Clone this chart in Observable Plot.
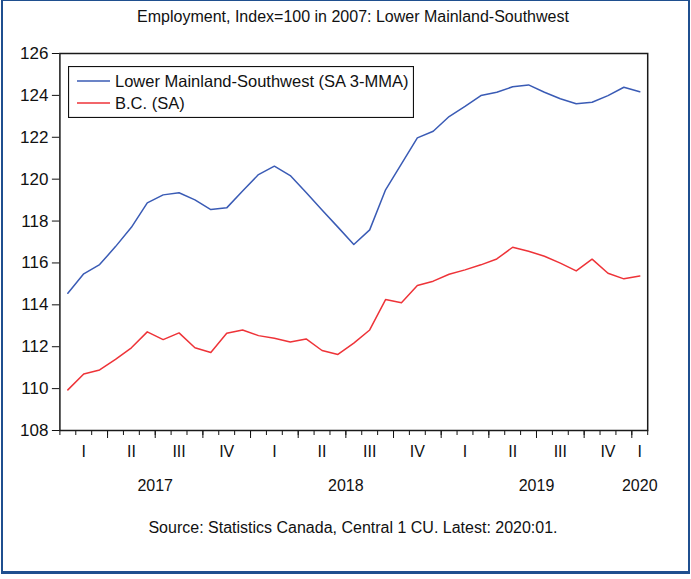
<!DOCTYPE html>
<html>
<head>
<meta charset="utf-8">
<script src="https://cdn.jsdelivr.net/npm/d3@7"></script>
<script src="https://cdn.jsdelivr.net/npm/@observablehq/plot@0.6"></script>
<style>
  body { margin: 0; background: #fff; }
  #wrap { position: relative; width: 691px; height: 579px; overflow: hidden; background: #fff;
          font-family: "Liberation Sans", Arial, sans-serif; color: #111; }
  #border { position: absolute; left: 1px; top: 0; width: 685px; height: 570px;
            border-style: solid; border-color: #1f4f8f;
            border-width: 1px 2px 3px 2px; pointer-events: none; }
  #title { position: absolute; left: 59px; width: 588px; top: 8px; text-align: center;
           font-size: 16px; line-height: 18px; white-space: nowrap; }
  #source { position: absolute; left: 59px; width: 588px; top: 519px; text-align: center;
            font-size: 16px; line-height: 18px; white-space: nowrap; }
  #chart { position: absolute; left: 0; top: 30px; }
  #legend { position: absolute; left: 68px; top: 66px; }
</style>
</head>
<body>
<div id="wrap">
  <div id="title">Employment, Index=100 in 2007: Lower Mainland-Southwest</div>
  <div id="chart"></div>
  <div id="legend"></div>
  <div id="source">Source: Statistics Canada, Central 1 CU. Latest: 2020:01.</div>
  <div id="border"></div>
</div>
<script>
// ---- data (monthly, Jan 2017 – Jan 2020) ----
const months = [
  "2017-01","2017-02","2017-03","2017-04","2017-05","2017-06","2017-07","2017-08","2017-09","2017-10","2017-11","2017-12",
  "2018-01","2018-02","2018-03","2018-04","2018-05","2018-06","2018-07","2018-08","2018-09","2018-10","2018-11","2018-12",
  "2019-01","2019-02","2019-03","2019-04","2019-05","2019-06","2019-07","2019-08","2019-09","2019-10","2019-11","2019-12",
  "2020-01"
];
const lowerMainland = [
  114.55, 115.48, 115.92, 116.78, 117.70, 118.87, 119.25, 119.35, 119.01, 118.55, 118.63, 119.43,
  120.22, 120.62, 120.17, 119.36, 118.53, 117.71, 116.88, 117.58, 119.49, 120.73, 121.97, 122.29,
  122.99, 123.47, 123.99, 124.15, 124.41, 124.50, 124.15, 123.84, 123.60, 123.67, 123.99, 124.39,
  124.17
];
const bc = [
  109.94, 110.70, 110.89, 111.40, 111.95, 112.71, 112.34, 112.66, 111.95, 111.72, 112.64, 112.80,
  112.53, 112.40, 112.23, 112.37, 111.82, 111.63, 112.17, 112.80, 114.25, 114.10, 114.92, 115.13,
  115.46, 115.67, 115.91, 116.19, 116.75, 116.56, 116.32, 115.99, 115.62, 116.18, 115.51, 115.24,
  115.38
];
const seriesNames = ["Lower Mainland-Southwest (SA 3-MMA)", "B.C. (SA)"];
const seriesColors = ["#3a5bb5", "#ee3338"];
const yTicks = [108, 110, 112, 114, 116, 118, 120, 122, 124, 126];
const quarterLabels = ["I","II","III","IV","I","II","III","IV","I","II","III","IV","I"];
const yearLabels = ["2017", "2018", "2019", "2020"];

// ---- derived positions from month index ----
const data = months.map((m, i) => ({ i, m, lm: lowerMainland[i], bc: bc[i] }));
const n = months.length;
const monthTicks = d3.range(-1, n).map(i => i + 0.5);          // month boundaries
const quarterTicks = monthTicks.filter(t => (t + 0.5) % 3 === 0 && t > 0 && t < n - 1);
const quarterPos = [];   // centre of each (possibly partial) quarter
for (let s = 0; s < n; s += 3) quarterPos.push((s + Math.min(s + 2, n - 1)) / 2);
const yearPos = [];
for (let s = 0; s < n; s += 12) yearPos.push((s + Math.min(s + 11, n - 1)) / 2);
const qMap = new Map(quarterPos.map((p, k) => [p, quarterLabels[k]]));
const yMap = new Map(yearPos.map((p, k) => [p, yearLabels[k]]));

const chart = Plot.plot({
  width: 691,
  height: 475,
  marginTop: 23,
  marginBottom: 75,
  marginLeft: 59.4,
  marginRight: 43.8,
  x: { domain: [-0.5, n - 0.5] },
  y: { domain: [108, 126] },
  style: { fontFamily: "Liberation Sans, Arial, sans-serif", fontSize: "16px", background: "transparent", color: "#111", overflow: "visible" },
  marks: [
    Plot.axisY({ ticks: yTicks, tickSize: 7.5, tickPadding: 4, fontSize: 17, label: null, tickFormat: d => String(d) }),
    Plot.axisX({ ticks: monthTicks, tickSize: 5, tickFormat: () => "", label: null }),
    Plot.axisX({ ticks: quarterTicks, tickSize: 8, tickFormat: () => "", label: null }),
    Plot.axisX({ ticks: quarterPos, tickSize: 0, tickPadding: 15, fontSize: 16, label: null, tickFormat: d => qMap.get(d) }),
    Plot.axisX({ ticks: yearPos, tickSize: 0, tickPadding: 49, fontSize: 16, label: null, tickFormat: d => yMap.get(d) }),
    Plot.line(data, { x: "i", y: "lm", stroke: seriesColors[0], strokeWidth: 1.5 }),
    Plot.line(data, { x: "i", y: "bc", stroke: seriesColors[1], strokeWidth: 1.5 }),
    Plot.frame({ stroke: "#1a1a1a", strokeWidth: 1.5 })
  ]
});
document.getElementById("chart").appendChild(chart);

// ---- legend (inside plot area, top-left) ----
const lg = d3.select("#legend").append("svg").attr("width", 346).attr("height", 52);
lg.append("rect").attr("x", 0.5).attr("y", 0.5).attr("width", 345).attr("height", 51)
  .attr("fill", "#fff").attr("stroke", "#111").attr("stroke-width", 1.2);
seriesNames.forEach((name, k) => {
  const cy = 15 + k * 22;
  lg.append("line").attr("x1", 9).attr("x2", 42).attr("y1", cy).attr("y2", cy)
    .attr("stroke", seriesColors[k]).attr("stroke-width", 1.5);
  lg.append("text").attr("x", 47).attr("y", cy).attr("dy", "0.36em")
    .attr("font-family", "Liberation Sans, Arial, sans-serif").attr("font-size", 16.5)
    .attr("fill", "#111").text(name);
});
</script>
</body>
</html>
